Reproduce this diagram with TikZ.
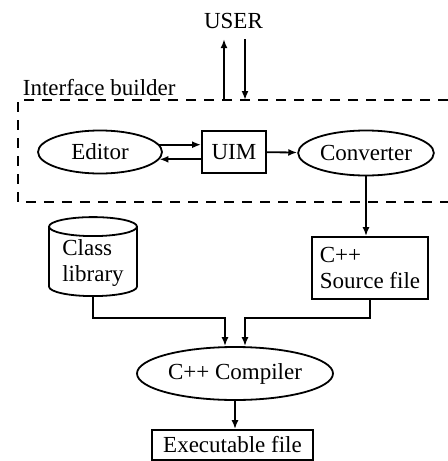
\documentclass[tikz,border=0pt]{standalone}
\usepackage{fontspec}
\setmainfont{Liberation Serif}
\usetikzlibrary{shapes.geometric,arrows.meta}

\begin{document}
\begin{tikzpicture}[x=0.5pt, y=-0.5pt, line width=0.9pt, >={Latex[length=4.5pt,width=3.5pt]},
    font=\fontsize{11.5}{13}\selectfont,
    proc/.style={draw, ellipse, inner sep=1pt},
    box/.style={draw, rectangle, inner sep=2pt}]
    \useasboundingbox (0,0) rectangle (448,461);

    % Entities
    \node[anchor=base, inner ysep=5pt] (user) at (233.5,28) {USER};
    \node[anchor=base west, inner sep=0pt] (iblabel) at (22,95) {Interface builder};
    \node[proc, minimum width=62pt, minimum height=21.5pt] (editor) at (100,152) {Editor};
    \node[box, minimum width=32pt, minimum height=21pt] (uim) at (234,152) {UIM};
    \node[proc, minimum width=61pt, minimum height=22.5pt] (conv) at (366,153) {Converter};
    \node[box, align=left, minimum width=58pt, minimum height=31pt] (src) at (370,268) {C++\\Source file};
    \node[draw, cylinder, shape border rotate=90, aspect=0.3, align=left, anchor=south,
          minimum width=44pt, minimum height=39.5pt, inner sep=0.5pt] (classlib) at (93,297) {Class\\library};
    \node[proc, minimum width=98pt, minimum height=26.5pt] (comp) at (235,373.5) {C++ Compiler};
    \node[box, minimum width=80.5pt, minimum height=15pt, inner ysep=1pt] (exe) at (232.5,445) {Executable file};

    % Interface builder frame
    \draw[dashed, dash pattern=on 5pt off 4pt] (448,100) -| (18,202) -- (448,202);
    \coordinate (up) at (224,100);
    \coordinate (down) at (245,100);
    \coordinate (lj) at (225,318);
    \coordinate (rj) at (245,318);

    % Relationships
    \draw[->] (up) -- (up |- user.south);
    \draw[->] (down |- user.south) -- (down);
    \draw[->] (editor.7) -- (editor.7 -| uim.west);
    \draw[->] (uim.west |- editor.-7) -- (editor.-7);
    \draw[->] (uim) -- (conv);
    \draw[->] (conv.south) -- (conv.south |- src.north);
    \draw[->] (classlib.south) |- (lj) -- (lj |- comp.north);
    \draw[->] (src.south) |- (rj) -- (rj |- comp.north);
    \draw[->] (comp.south) -- (comp.south |- exe.north);
\end{tikzpicture}
\end{document}
